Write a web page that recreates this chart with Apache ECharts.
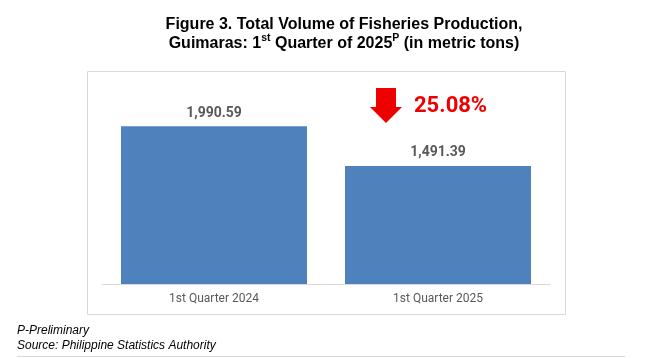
<!DOCTYPE html>
<html><head><meta charset="utf-8">
<script src="https://cdn.jsdelivr.net/npm/echarts@6/dist/echarts.min.js"></script>
<style>html,body{margin:0;padding:0;background:#fff}#c{width:651px;height:358px}</style>
</head><body><div id="c"></div>
<script>
const categories = ['1st Quarter 2024', '1st Quarter 2025'];
const volumes = [1990.59, 1491.39];
const changeLabel = '25.08%';

const chart = echarts.init(document.getElementById('c'), null, {renderer: 'canvas'});
chart.setOption({
  animation: false,
  backgroundColor: '#ffffff',
  title: {
    text: '{t|Figure 3. Total Volume of Fisheries Production,}\n{t|Guimaras: 1}{s|st}{t| Quarter of 2025}{s|P}{t| (in metric tons)}',
    left: 339, top: 9, textAlign: 'center',
    textStyle: {
      rich: {
        t: {fontFamily: 'Liberation Sans, Arial', fontWeight: 'bold', fontSize: 16, color: '#000', lineHeight: 19, verticalAlign: 'bottom'},
        s: {fontFamily: 'Liberation Sans, Arial', fontWeight: 'bold', fontSize: 10.5, color: '#000', lineHeight: 19, verticalAlign: 'top', padding: [0,0,6,0]}
      }
    }
  },
  graphic: [
    {type: 'rect', shape: {x: 87.5, y: 71.5, width: 478, height: 243}, style: {fill: 'none', stroke: '#d9d9d9', lineWidth: 1}, z: -1},
    {type: 'line', shape: {x1: 17, y1: 356.5, x2: 625, y2: 356.5}, style: {stroke: '#d9d9d9', lineWidth: 1}},
    {type: 'polygon', shape: {points: [[376, 88], [396, 88], [396, 107], [402, 107], [386, 123], [370, 107], [376, 107]]}, style: {fill: '#ee0000'}},
    {type: 'text', left: 414, top: 95, style: {text: changeLabel, fill: '#ee0000', font: 'bold 22px Roboto, "Liberation Sans", Arial'}},
    {type: 'text', left: 17, top: 323, style: {text: 'P-Preliminary\nSource: Philippine Statistics Authority', fill: '#000', font: 'italic 12px "Liberation Sans", Arial', lineHeight: 15}}
  ],
  grid: {left: 102, right: 101, top: 86, bottom: 74, containLabel: false},
  xAxis: {
    type: 'category', data: categories,
    axisLine: {show: true, lineStyle: {color: '#d9d9d9', width: 1}},
    axisTick: {show: false},
    axisLabel: {color: '#595959', fontSize: 12, fontFamily: 'Roboto, "Liberation Sans", Arial', margin: 9}
  },
  yAxis: {type: 'value', min: 0, max: 2500, show: false, splitLine: {show: false}},
  series: [{
    type: 'bar', data: volumes, barWidth: 186,
    itemStyle: {color: '#4f81bd'},
    label: {
      show: true, position: 'top', distance: 6,
      color: '#595959', fontSize: 14, fontWeight: 'bold', fontFamily: 'Roboto, "Liberation Sans", Arial',
      formatter: p => p.value.toLocaleString('en-US', {minimumFractionDigits: 2, maximumFractionDigits: 2})
    }
  }]
});
</script></body></html>
